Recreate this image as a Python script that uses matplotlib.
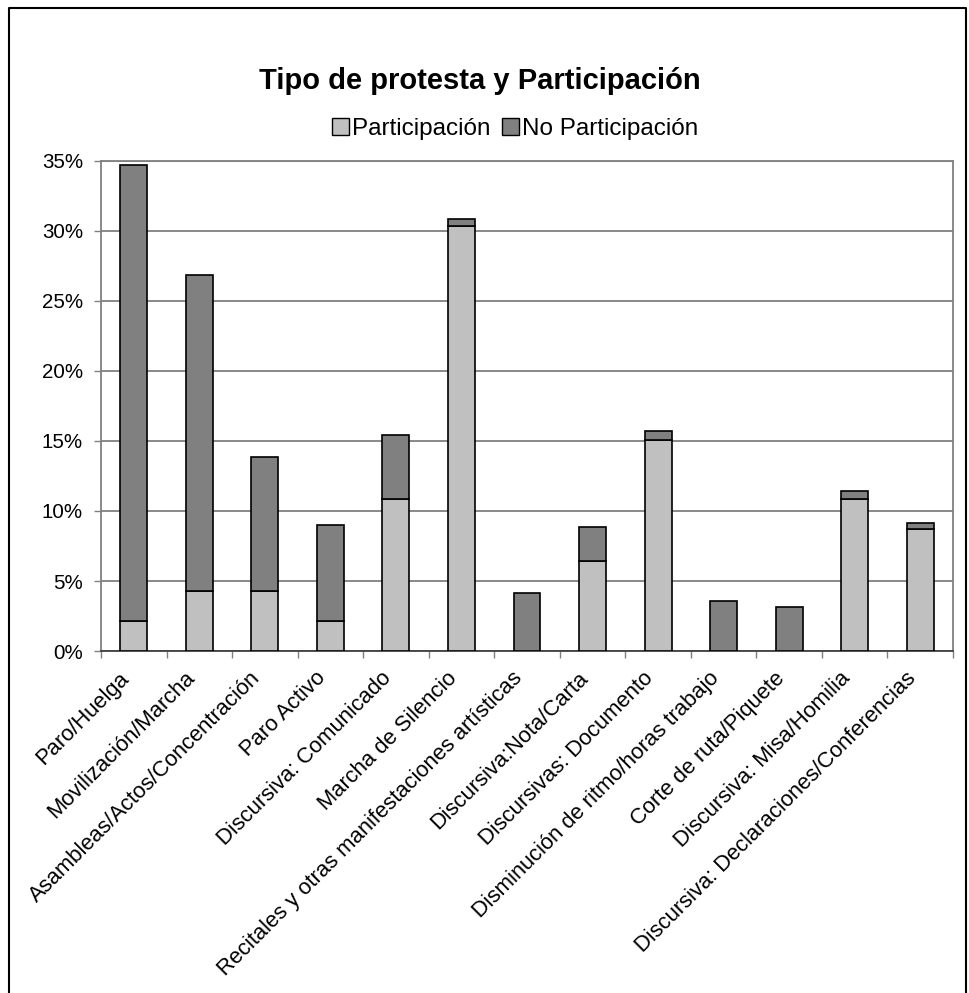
import matplotlib
matplotlib.use("Agg")
import matplotlib.pyplot as plt
import matplotlib.transforms as mtransforms
from matplotlib.patches import Patch
from matplotlib.lines import Line2D
import numpy as np

plt.rcParams['font.family'] = ['Liberation Sans', 'DejaVu Sans']

categorias = [
    "Paro/Huelga",
    "Movilización/Marcha",
    "Asambleas/Actos/Concentración",
    "Paro Activo",
    "Discursiva: Comunicado",
    "Marcha de Silencio",
    "Recitales y otras manifestaciones artísticas",
    "Discursiva:Nota/Carta",
    "Discursivas: Documento",
    "Disminución de ritmo/horas trabajo",
    "Corte de ruta/Piquete",
    "Discursiva: Misa/Homilia",
    "Discursiva: Declaraciones/Conferencias",
]
participacion = [2.13, 4.26, 4.26, 2.13, 10.86, 30.38, 0.0, 6.44, 15.10, 0.0, 0.0, 10.86, 8.71]
no_participacion = [32.56, 22.60, 9.60, 6.89, 4.57, 0.45, 4.14, 2.41, 0.61, 3.57, 3.14, 0.57, 0.43]
y_ticks = [0, 5, 10, 15, 20, 25, 30, 35]

c_part = "#C0C0C0"
c_nopart = "#808080"

fig = plt.figure(figsize=(9.7, 9.93), dpi=100)
ax = fig.add_axes([0.1041, 0.3444, 0.8784, 0.4935])

x = np.arange(len(categorias))
w = 0.41
ax.bar(x, participacion, w, color=c_part, edgecolor="black", linewidth=1.2, zorder=3)
ax.bar(x, no_participacion, w, bottom=participacion, color=c_nopart,
       edgecolor="black", linewidth=1.2, zorder=3)

ax.set_xlim(-0.5, len(categorias) - 0.5)
ax.set_ylim(0, 35)
ax.set_yticks(y_ticks)
ax.set_yticklabels([f"{v}%" for v in y_ticks], fontsize=14.8)
ax.yaxis.grid(True, color="#808080", linewidth=1.3, zorder=0)
ax.set_axisbelow(True)

# ticks between categories, labels centred under each bar
ax.set_xticks(np.arange(-0.5, len(categorias) + 0.5, 1))
ax.set_xticklabels([])
ax.set_xticks(x, minor=True)
ax.set_xticklabels(categorias, minor=True, rotation=45, ha="right",
                   rotation_mode="anchor", fontsize=15.8)
ax.tick_params(axis="x", which="minor", length=0, pad=12)
ax.tick_params(axis="x", which="major", length=5, width=1, color="#808080", direction="out")
ax.tick_params(axis="y", length=5, width=1, color="#808080", direction="out", pad=8)

# nudge rotated labels a bit left so they end under the bar
shift = mtransforms.ScaledTranslation(-15 / 100, 0, fig.dpi_scale_trans)
for lbl in ax.get_xticklabels(minor=True):
    lbl.set_transform(lbl.get_transform() + shift)

for s in ["top", "right"]:
    ax.spines[s].set_color("#808080")
    ax.spines[s].set_linewidth(1.3)
ax.spines["left"].set_color("#808080")
ax.spines["left"].set_linewidth(1.3)
ax.spines["bottom"].set_color("#404040")
ax.spines["bottom"].set_linewidth(1.3)

fig.text(0.495, 0.918, "Tipo de protesta y Participación", ha="center", va="center",
         fontsize=21, fontweight="bold")

handles = [Patch(facecolor=c_part, edgecolor="black", linewidth=1.0),
           Patch(facecolor=c_nopart, edgecolor="black", linewidth=1.0)]
fig.legend(handles, ["Participación", "No Participación"], loc="center",
           bbox_to_anchor=(0.531, 0.870), ncol=2, frameon=False, fontsize=17.5,
           handlelength=0.7, handleheight=0.7, handletextpad=0.1, columnspacing=0.5)

# outer chart border (left, top, right)
fig.add_artist(Line2D([0.0088, 0.0088, 0.9955, 0.9955], [0.0, 0.9915, 0.9915, 0.0],
                      transform=fig.transFigure, color="black", linewidth=1.5))

fig.savefig("out.png", dpi=100)
